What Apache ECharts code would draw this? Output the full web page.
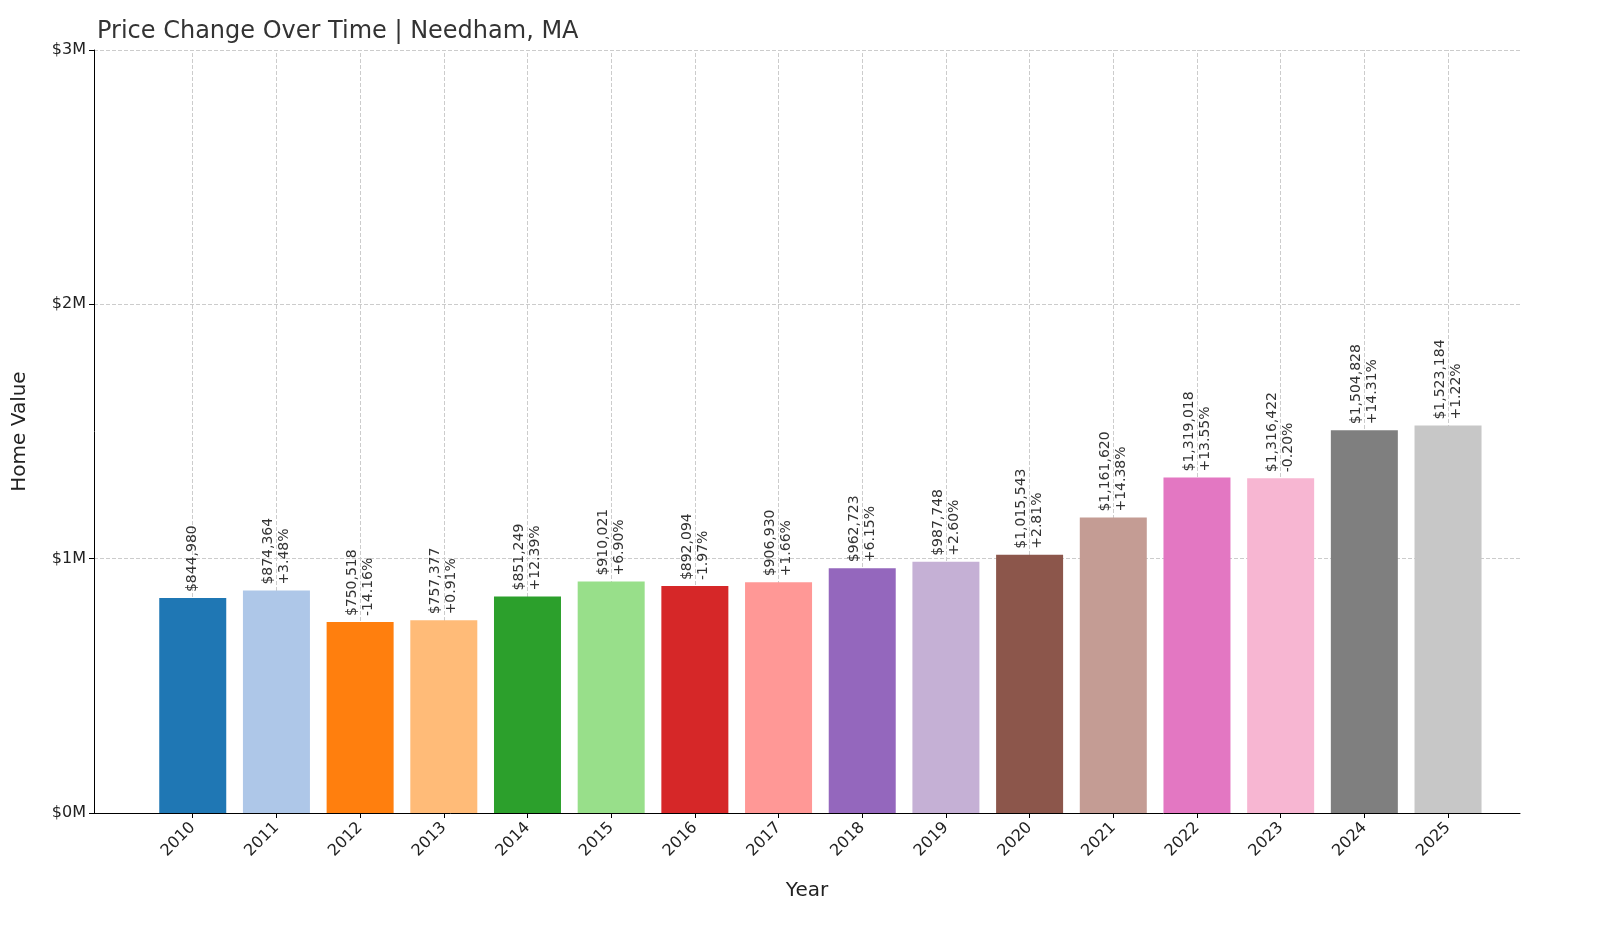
<!DOCTYPE html>
<html><head><meta charset="utf-8">
<script src="https://cdn.jsdelivr.net/npm/echarts@6/dist/echarts.min.js"></script>
<style>html,body{margin:0;padding:0;background:#fff}#c{width:1600px;height:933px}</style>
</head><body><div id="c"></div>
<script>
const years = ['2010','2011','2012','2013','2014','2015','2016','2017','2018','2019','2020','2021','2022','2023','2024','2025'];
const values = [844980,874364,750518,757377,851249,910021,892094,906930,962723,987748,1015543,1161620,1319018,1316422,1504828,1523184];
const changes = ['','+3.48%','-14.16%','+0.91%','+12.39%','+6.90%','-1.97%','+1.66%','+6.15%','+2.60%','+2.81%','+14.38%','+13.55%','-0.20%','+14.31%','+1.22%'];
const colors = ['#1f77b4','#aec7e8','#ff7f0e','#ffbb78','#2ca02c','#98df8a','#d62728','#ff9896','#9467bd','#c5b0d5','#8c564b','#c49c94','#e377c2','#f7b6d2','#7f7f7f','#c7c7c7'];
const yTicks = [0,1000000,2000000,3000000];

const chart = echarts.init(document.getElementById('c'));
const fmt = v => '$' + v.toLocaleString('en-US');
const idx = years.map((y,i)=>i);
chart.setOption({
  animation:false,
  title:{text:'Price Change Over Time | Needham, MA',left:92,top:15,textStyle:{fontSize:24,fontWeight:'normal',color:'#333',fontFamily:'DejaVu Sans'}},
  grid:{left:94,right:80,top:50,bottom:120,outerBoundsMode:'none',containLabel:false},
  xAxis:{type:'value',min:-1.18,max:15.86,name:'Year',nameLocation:'middle',nameGap:68,
    nameTextStyle:{fontSize:20,color:'#222',fontFamily:'DejaVu Sans'},
    axisLine:{show:true,onZero:false,lineStyle:{color:'#000'}},
    splitLine:{show:false},
    axisTick:{show:true,customValues:idx,lineStyle:{color:'#000'}},
    axisLabel:{customValues:idx,rotate:45,fontSize:16,color:'#222',fontFamily:'DejaVu Sans',margin:12,formatter:v=>years[Math.round(v)]}},
  yAxis:{type:'value',min:0,max:3000000,interval:1000000,name:'Home Value',nameLocation:'middle',nameGap:64,
    nameTextStyle:{fontSize:20,color:'#222',fontFamily:'DejaVu Sans'},
    axisLine:{show:true,onZero:false,lineStyle:{color:'#000'}},axisTick:{show:true,lineStyle:{color:'#000'}},
    splitLine:{show:true,lineStyle:{type:'dashed',color:'#ccc'}},
    axisLabel:{fontSize:16,color:'#222',fontFamily:'DejaVu Sans',formatter:v=>'$'+(v/1e6)+'M'}},
  series:[{type:'bar',barWidth:67,z:3,
    data:values.map((v,i)=>({value:[i,v],itemStyle:{color:colors[i]},
      label:{formatter:changes[i]?fmt(v)+'\n'+changes[i]:fmt(v)}})),
    label:{show:true,position:'top',rotate:90,align:'left',verticalAlign:'middle',distance:6,fontSize:14,lineHeight:16,color:'#333',fontFamily:'DejaVu Sans'},
    markLine:{silent:true,symbol:'none',label:{show:false},lineStyle:{type:'dashed',color:'#ccc',width:1},z:1,
      data:idx.map(i=>({xAxis:i}))}
  }]
});
</script></body></html>
